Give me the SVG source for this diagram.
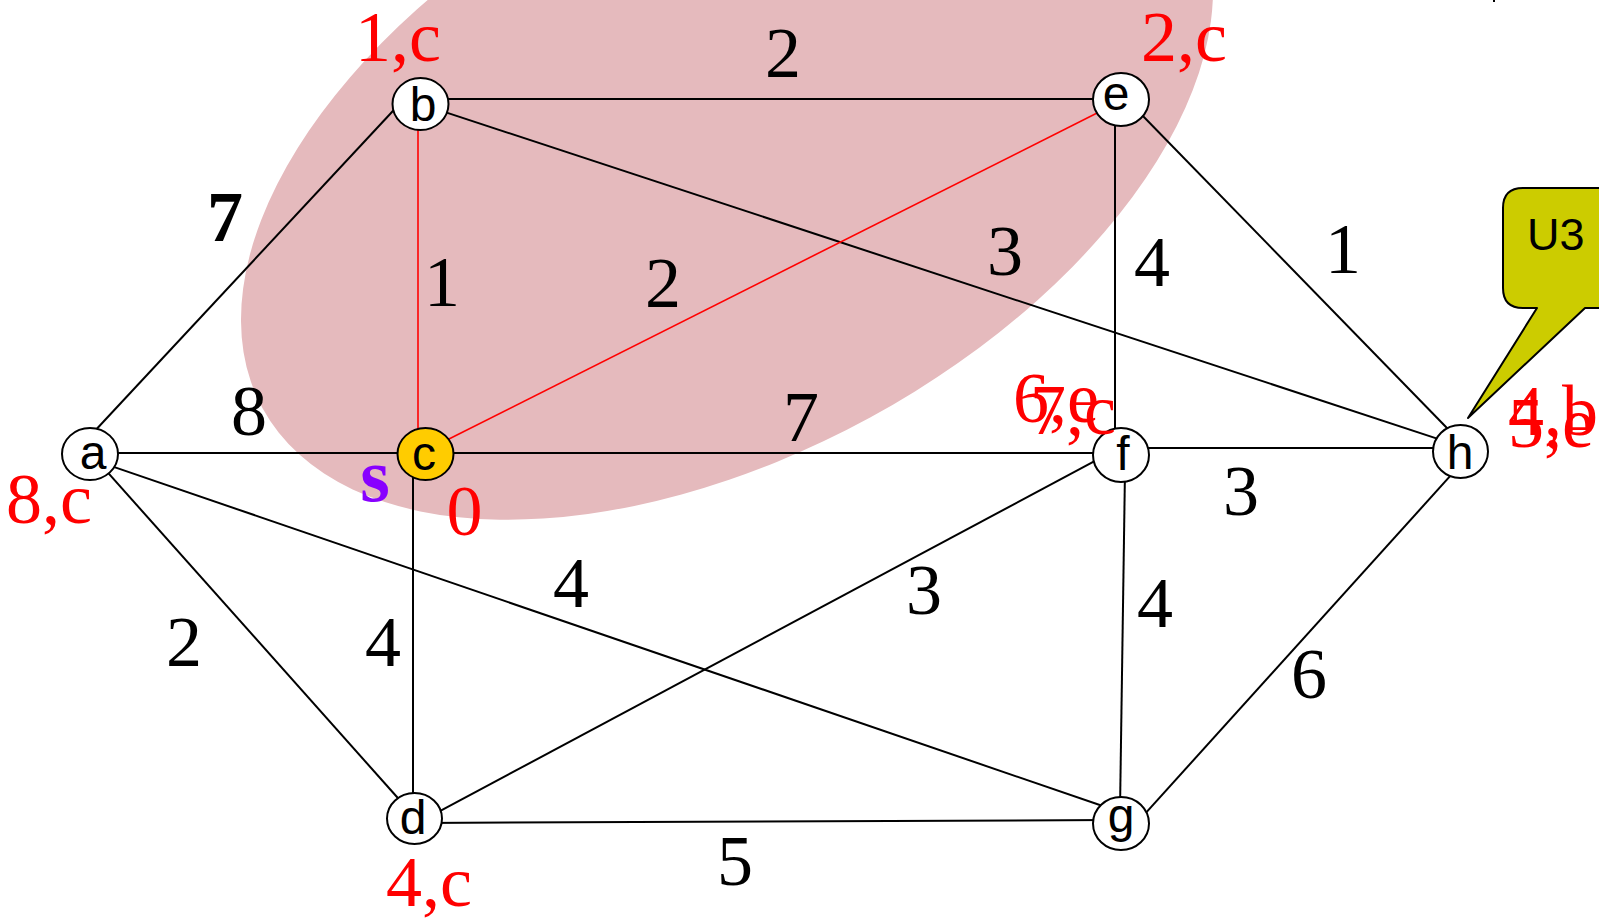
<svg xmlns="http://www.w3.org/2000/svg" width="1599" height="919" viewBox="0 0 1599 919">
<style>
.edge{stroke:#000;stroke-width:2;fill:none}
.red{stroke:#ff0000;stroke-width:1.6;fill:none}
.node{fill:#fff;stroke:#000;stroke-width:2}
.src{fill:#ffcc00;stroke:#000;stroke-width:2}
.nl{font-family:"Liberation Sans",Arial,sans-serif;font-size:48px;fill:#000;text-anchor:middle}
.w{font-family:"Liberation Serif","Times New Roman",serif;font-size:72px;fill:#000;text-anchor:middle}
.d{font-family:"Liberation Serif","Times New Roman",serif;font-size:72px;fill:#ff0000}
</style>
<rect width="1599" height="919" fill="#fff"/>
<ellipse id="region" cx="727" cy="155" rx="529" ry="299" transform="rotate(-28.6 727 155)" fill="#e5babd"/>
<rect x="1493" y="0" width="2" height="2" fill="#000"/>
<g id="connectors">
<line class="edge" x1="95" y1="430.7" x2="405" y2="98"/>
<line class="edge" x1="100" y1="453" x2="420" y2="453"/>
<line class="edge" x1="105" y1="469.4" x2="405" y2="806"/>
<line class="edge" x1="110" y1="465.6" x2="1110" y2="808.5"/>
<line class="edge" x1="430" y1="99" x2="1110" y2="99"/>
<line class="edge" x1="430" y1="107.1" x2="1450" y2="442.9"/>
<line class="edge" x1="430" y1="453" x2="1110" y2="453"/>
<line class="edge" x1="413" y1="470" x2="413" y2="805"/>
<line class="edge" x1="430" y1="816.4" x2="1110" y2="452.9"/>
<line class="edge" x1="420" y1="823" x2="1110" y2="820"/>
<line class="edge" x1="1115" y1="110" x2="1115" y2="445"/>
<line class="edge" x1="1130" y1="102.7" x2="1455" y2="436.2"/>
<line class="edge" x1="1130" y1="448" x2="1450" y2="448"/>
<line class="edge" x1="1125" y1="470" x2="1120" y2="810"/>
<line class="edge" x1="1135" y1="824.9" x2="1455" y2="470.7"/>
<line class="red" x1="418" y1="110" x2="418" y2="445"/>
<line class="red" x1="435" y1="446" x2="1110" y2="106.5"/>
</g>
<g id="node-a"><ellipse class="node" cx="90" cy="454" rx="28" ry="26"/><text class="nl" x="93" y="469">a</text></g>
<g id="node-b"><ellipse class="node" cx="420.5" cy="104" rx="28" ry="26"/><text class="nl" x="423" y="121">b</text></g>
<g id="node-c"><ellipse class="src" cx="425.5" cy="454" rx="28" ry="26"/><text class="nl" x="424" y="470">c</text></g>
<g id="node-d"><ellipse class="node" cx="414.5" cy="818.5" rx="27.5" ry="25.5"/><text class="nl" x="413" y="834">d</text></g>
<g id="node-e"><ellipse class="node" cx="1121" cy="99.5" rx="28" ry="26.5"/><text class="nl" x="1116" y="110">e</text></g>
<g id="node-f"><ellipse class="node" cx="1121" cy="455" rx="28" ry="27"/><text class="nl" x="1123" y="470">f</text></g>
<g id="node-g"><ellipse class="node" cx="1121" cy="823.5" rx="28" ry="26.5"/><text class="nl" x="1121" y="832">g</text></g>
<g id="node-h"><ellipse class="node" cx="1460.5" cy="451.5" rx="27.5" ry="26.5"/><text class="nl" x="1460" y="469">h</text></g>
<g id="weights">
<text class="w" x="225" y="241" font-weight="bold">7</text>
<text class="w" x="249" y="435">8</text>
<text class="w" x="442" y="306">1</text>
<text class="w" x="783" y="77">2</text>
<text class="w" x="663" y="307">2</text>
<text class="w" x="1005" y="275">3</text>
<text class="w" x="1152" y="286">4</text>
<text class="w" x="1343" y="273">1</text>
<text class="w" x="801" y="441">7</text>
<text class="w" x="1241" y="515">3</text>
<text class="w" x="924" y="614">3</text>
<text class="w" x="1155" y="627">4</text>
<text class="w" x="571" y="607">4</text>
<text class="w" x="383" y="666">4</text>
<text class="w" x="184" y="666">2</text>
<text class="w" x="1309" y="698">6</text>
<text class="w" x="735" y="885">5</text>
</g>
<g id="distances">
<text class="d" x="355" y="61">1,c</text>
<text class="d" x="1141" y="61">2,c</text>
<text class="d" x="6" y="523">8,c</text>
<text class="d" x="464.5" y="535" text-anchor="middle">0</text>
<text class="d" x="386" y="906">4,c</text>
<text class="d" x="1013" y="422">6,e</text>
<text class="d" x="1030" y="434">7,c</text>
<text class="d" x="1508" y="435">4,b</text>
<text class="d" x="1508" y="447">5,e</text>
</g>
<text x="375" y="501" font-family="'Liberation Serif','Times New Roman',serif" font-size="76" font-weight="bold" fill="#8800ff" text-anchor="middle">s</text>
<g id="callout-U3">
<path d="M1523,188 H1620 V308 H1585 L1468,418 L1537,308 H1523 Q1503,308 1503,288 V208 Q1503,188 1523,188 Z" fill="#cccc00" stroke="#000" stroke-width="2" stroke-linejoin="round"/>
<text x="1527" y="250" font-family="'Liberation Sans',Arial,sans-serif" font-size="45" fill="#000">U3</text>
</g>
</svg>
